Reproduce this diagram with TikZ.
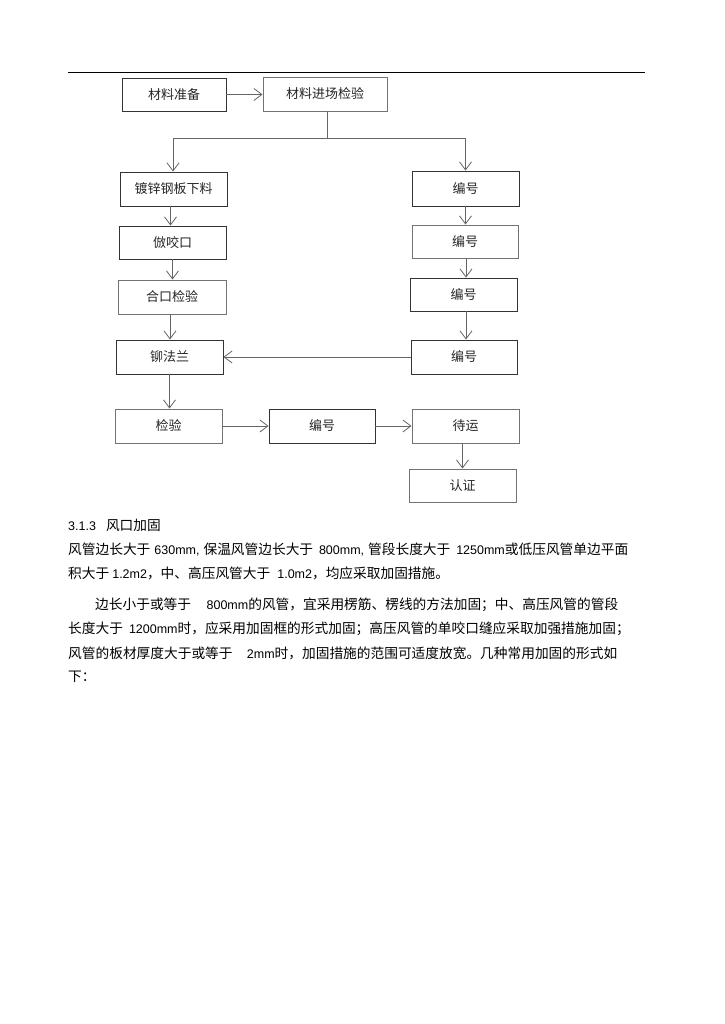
\documentclass[tikz,border=0pt]{standalone}
\usepackage{fontspec}
\setmainfont{Noto Sans CJK SC}
\newfontfamily\lat{Liberation Sans}
\usetikzlibrary{arrows.meta}
\newcommand\LT[1]{{\lat\fontsize{12.5}{14}\selectfont #1}}
\begin{document}
\begin{tikzpicture}[x=1pt,y=-1pt,
  box/.style={draw=black!80, line width=0.9pt, minimum width=107pt, minimum height=34pt, inner sep=0pt, font=\fontsize{13}{15}\selectfont, text=black!85},
  lbox/.style={box, draw=black!55},
  arr/.style={draw=black!60, line width=0.8pt, -{Straight Barb[length=8pt,width=12pt]}},
  ln/.style={draw=black!60, line width=0.8pt},
  txt/.style={anchor=west, inner sep=0pt, font=\fontsize{13.7}{16}\selectfont}]
\useasboundingbox[fill=white] (0,0) rectangle (724,1024);
% header rule
\draw[line width=0.9pt] (68,72) -- (645,72);
% boxes
\node[box, minimum width=104pt, minimum height=33pt] (prep) at (174,94.5) {材料准备};
\node[lbox, minimum width=124pt] (insp) at (325,94) {材料进场检验};
\node[box] (cut) at (173.5,189) {镀锌钢板下料};
\node[box, minimum height=33pt] (seam) at (172.5,242.5) {倣咬口};
\node[lbox, minimum width=108pt] (join) at (172,297) {合口检验};
\node[box] (flange) at (169.5,357) {铆法兰};
\node[box, minimum height=35pt] (na) at (465.5,188.5) {编号};
\node[lbox, minimum width=106pt, minimum height=33pt] (nb) at (465,241.5) {编号};
\node[box, minimum height=33pt] (nc) at (463.5,294.5) {编号};
\node[box, minimum width=106pt] (nd) at (464,357) {编号};
\node[lbox] (test) at (168.5,426) {检验};
\node[box, minimum width=106pt] (ne) at (322,426) {编号};
\node[lbox] (wait) at (465.5,426) {待运};
\node[lbox, minimum height=33pt] (cert) at (462.5,485.5) {认证};
% connectors
\draw[arr] (prep.east) -- (prep.east -| insp.west);
\coordinate (split) at (327,138);
\draw[ln] (split |- insp.south) -- (split);
\draw[arr] (split) -| ([xshift=-0.5pt]cut.north);
\draw[arr] (split) -| (na.north);
\draw[arr] ([xshift=-3pt]cut.south) -- ([xshift=-3pt]cut.south |- seam.north);
\draw[arr] (seam.south) -- (seam.south |- join.north);
\draw[arr] ([xshift=-2pt]join.south) -- ([xshift=-2pt]join.south |- flange.north);
\draw[arr] (flange.south) -- (flange.south |- test.north);
\draw[arr] (na.south) -- (na.south |- nb.north);
\draw[arr] ([xshift=1pt]nb.south) -- ([xshift=1pt]nb.south |- nc.north);
\draw[arr] ([xshift=2.5pt]nc.south) -- ([xshift=2.5pt]nc.south |- nd.north);
\draw[arr] (nd.west) -- (flange.east);
\draw[arr] (test.east) -- (ne.west);
\draw[arr] (ne.east) -- (wait.west);
\draw[arr] (cert.north |- wait.south) -- (cert.north);
% text
\node[txt] (h) at (68,525) {\LT{3.1.3}\hspace{10pt}风口加固};
\node[txt] (p1) at (68,549) {\makebox[560pt][l]{风管边长大于\hspace{4pt}\LT{630mm,}\hspace{4pt}保温风管边长大于\hfill\LT{800mm,}\hspace{4pt}管段长度大于\hfill\LT{1250mm}或低压风管单边平面}};
\node[txt] (p2) at (68,573) {积大于\hspace{3pt}\LT{1.2m2}，中、高压风管大于\hspace{7pt}\LT{1.0m2}，均应采取加固措施。};
\node[txt] (p3) at (95,605) {\makebox[523pt][l]{边长小于或等于\hfill\LT{800mm}的风管，宜采用楞筋、楞线的方法加固；中、高压风管的管段}};
\node[txt] (p4) at (68,629) {\makebox[559pt][l]{长度大于\hspace{6pt}\LT{1200mm}时，应采用加固框的形式加固；\hfill 高压风管的单咬口缝应采取加强措施加固；}};
\node[txt] (p5) at (68,653) {\makebox[549pt][l]{风管的板材厚度大于或等于\hfill\LT{2mm}时，加固措施的范围可适度放宽。几种常用加固的形式如}};
\node[txt] (p6) at (68,677) {下：};
\end{tikzpicture}
\end{document}
